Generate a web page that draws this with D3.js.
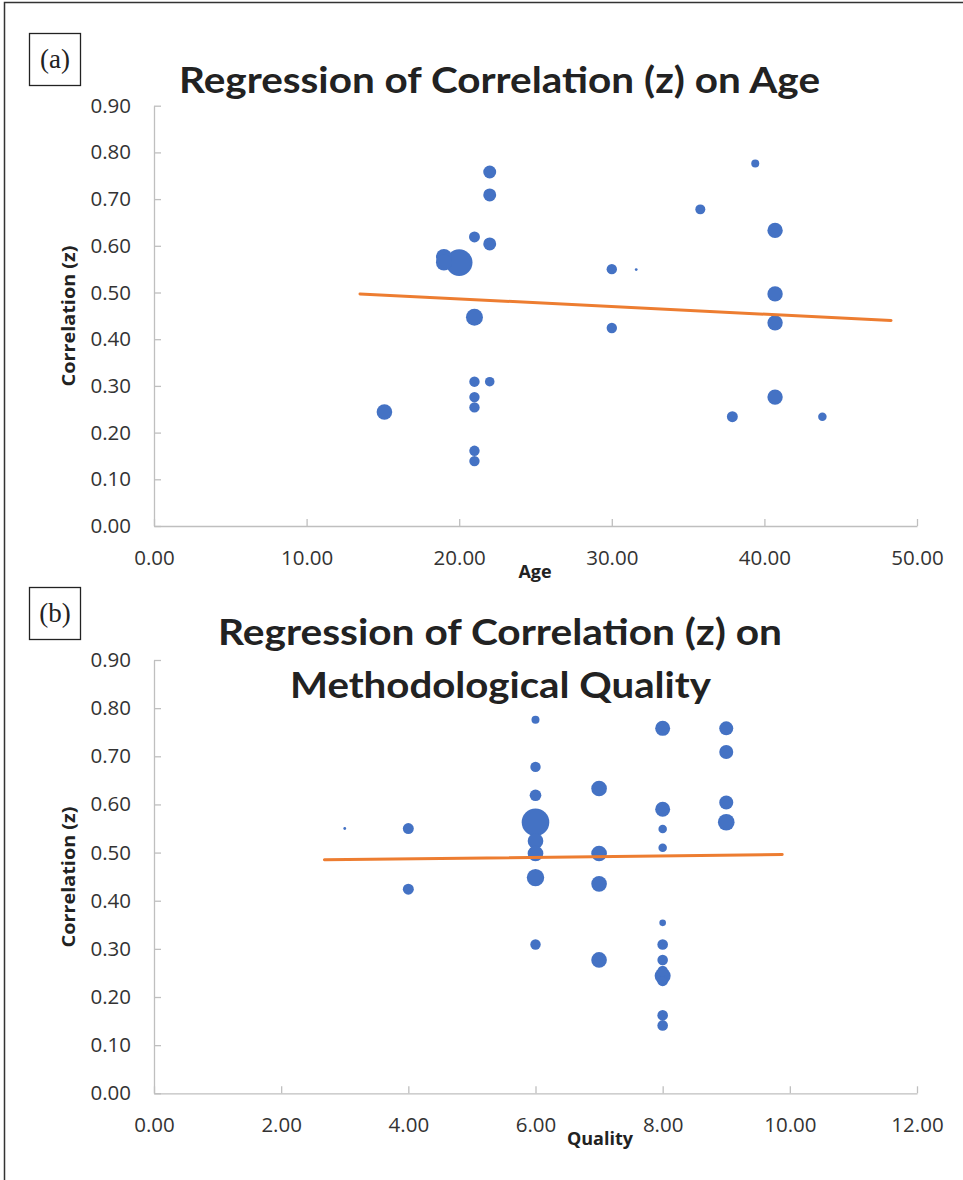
<!DOCTYPE html>
<html>
<head>
<meta charset="utf-8">
<script src="https://cdn.jsdelivr.net/npm/d3@7"></script>
<style>
  body { margin: 0; background: white; }
  #graph svg { display: block; }
</style>
</head>
<body>
<div id="graph"></div>
<script>
// Panel (a): correlation (z) against mean age, bubble size ~ study weight
var ageX = [22, 22, 21, 22, 19, 19, 20, 21, 30, 31.6, 30, 21, 22, 21, 21, 15.1, 21, 21,
            39.4, 35.8, 40.7, 40.7, 40.7, 40.7, 37.9, 43.8];
var ageY = [0.758, 0.709, 0.619, 0.604, 0.576, 0.564, 0.564, 0.447, 0.550, 0.549, 0.424,
            0.309, 0.309, 0.276, 0.254, 0.244, 0.161, 0.139,
            0.776, 0.678, 0.633, 0.497, 0.435, 0.276, 0.234, 0.234];
var ageSize = [42, 42, 30, 42, 64, 64, 177, 72, 27, 2, 27, 27, 23, 27, 27, 61, 27, 27,
               16, 25, 59, 59, 59, 59, 30, 18];
var ageFitX = [13.5, 48.3];
var ageFitY = [0.497, 0.440];
var ageTicks = [0, 10, 20, 30, 40, 50];

// Panel (b): correlation (z) against methodological quality score
var qualX = [6, 6, 6, 6, 6, 6, 6, 6,
             7, 7, 7, 7,
             8, 8, 8, 8, 8, 8, 8, 8, 8, 8, 8, 8, 8,
             9, 9, 9, 9,
             3, 4, 4];
var qualY = [0.776, 0.678, 0.619, 0.563, 0.524, 0.498, 0.448, 0.309,
             0.633, 0.498, 0.435, 0.277,
             0.758, 0.590, 0.549, 0.510, 0.354, 0.309, 0.277, 0.254, 0.244, 0.234, 0.234, 0.162, 0.141,
             0.758, 0.709, 0.604, 0.563,
             0.550, 0.550, 0.424];
var qualSize = [16, 27, 34, 190, 61, 61, 76, 27,
                61, 61, 61, 61,
                56, 56, 18, 18, 11, 28, 28, 27, 64, 30, 18, 28, 28,
                49, 49, 49, 69,
                2, 30, 30];
var qualFitX = [2.68, 9.88];
var qualFitY = [0.485, 0.496];
var qualTicks = [0, 2, 4, 6, 8, 10, 12];

var corrTicks = [0, 0.1, 0.2, 0.3, 0.4, 0.5, 0.6, 0.7, 0.8, 0.9];

var W = 963, H = 1180;
var bubbleColor = "#4472C4";
var fitColor = "#ED7D31";
var axisColor = "#BFBFBF";
var textColor = "#333333";

var svg = d3.select("#graph")
    .append("svg")
    .attr("width", W)
    .attr("height", H)
    .style("background-color", "white");

// outer frame, right and bottom edges run off the page
svg.append("rect")
    .attr("x", 4.5).attr("y", 2.5)
    .attr("width", W + 20).attr("height", H + 20)
    .attr("fill", "none")
    .attr("stroke", "#333")
    .attr("stroke-width", 1.5);

/*
  makeBubblePanel

  draws one bubble chart with its own axes, regression line, titles
  and the little boxed (a)/(b) tag in the top left corner.
*/
function makeBubblePanel(opts) {
    var g = svg.append("g");

    var x = d3.scaleLinear().domain(opts.xDomain).range([154, 917]);
    var y = d3.scaleLinear().domain([0, 0.9]).range([opts.yBottom, opts.yTop]);
    var r = d3.scaleSqrt().domain([0, d3.max(opts.sizes)]).range([0, opts.rMax]);

    // tag box
    g.append("rect")
        .attr("x", 29.5).attr("y", opts.tagY + 0.5)
        .attr("width", 51).attr("height", 52)
        .attr("fill", "white")
        .attr("stroke", "#222")
        .attr("stroke-width", 1.3);
    g.append("text")
        .attr("x", 55).attr("y", opts.tagY + 35)
        .attr("text-anchor", "middle")
        .style("font-family", "'Liberation Serif', serif")
        .style("font-size", "27px")
        .style("fill", "#222")
        .text(opts.tag);

    // titles
    opts.title.forEach(function(t) {
        g.append("text")
            .attr("x", t.cx).attr("y", t.y)
            .attr("text-anchor", "middle")
            .attr("textLength", t.len)
            .attr("lengthAdjust", "spacingAndGlyphs")
            .style("font-family", "Lato, 'Open Sans', sans-serif")
            .style("font-weight", "bold")
            .style("font-size", "36px")
            .style("fill", "#222")
            .text(t.text);
    });

    // axes
    var yAxis = d3.axisLeft(y)
        .tickValues(corrTicks)
        .tickFormat(d3.format(".2f"))
        .tickSizeInner(-7)
        .tickSizeOuter(0)
        .tickPadding(23);
    var xAxis = d3.axisBottom(x)
        .tickValues(opts.xTicks)
        .tickFormat(d3.format(".2f"))
        .tickSizeInner(-7)
        .tickSizeOuter(0)
        .tickPadding(24);

    var ya = g.append("g")
        .attr("transform", "translate(154,0)")
        .call(yAxis);
    var xa = g.append("g")
        .attr("transform", "translate(0," + opts.yBottom + ")")
        .call(xAxis);

    [ya, xa].forEach(function(a) {
        a.select(".domain").attr("stroke", axisColor).attr("stroke-width", 1.3);
        a.selectAll(".tick line").attr("stroke", axisColor).attr("stroke-width", 1.3);
        a.selectAll(".tick text")
            .style("font-family", "'Open Sans', sans-serif")
            .style("font-size", "20.5px")
            .style("fill", textColor);
    });

    // axis titles
    g.append("text")
        .attr("transform", "translate(75," + opts.yLabelY + ") rotate(-90)")
        .attr("text-anchor", "middle")
        .attr("textLength", 141)
        .attr("lengthAdjust", "spacingAndGlyphs")
        .style("font-family", "'Open Sans', sans-serif")
        .style("font-weight", "bold")
        .style("font-size", "18px")
        .style("fill", "#222")
        .text("Correlation (z)");
    g.append("text")
        .attr("x", opts.xLabelX).attr("y", opts.yBottom + opts.xLabelDy)
        .attr("text-anchor", "middle")
        .style("font-family", "'Open Sans', sans-serif")
        .style("font-weight", "bold")
        .style("font-size", "18px")
        .style("fill", "#222")
        .text(opts.xLabel);

    // bubbles, biggest first so small ones stay visible
    var pts = opts.xs.map(function(v, i) {
        return { x: v, y: opts.ys[i], s: opts.sizes[i] };
    });
    pts.sort(function(a, b) { return b.s - a.s; });

    g.append("g").selectAll("circle")
        .data(pts)
        .enter()
        .append("circle")
        .attr("cx", function(d) { return x(d.x); })
        .attr("cy", function(d) { return y(d.y); })
        .attr("r", function(d) { return r(d.s); })
        .attr("fill", bubbleColor);

    // regression line on top
    var fit = opts.fitX.map(function(v, i) { return [v, opts.fitY[i]]; });
    g.append("path")
        .datum(fit)
        .attr("d", d3.line()
              .x(function(d) { return x(d[0]); })
              .y(function(d) { return y(d[1]); }))
        .attr("fill", "none")
        .attr("stroke", fitColor)
        .attr("stroke-width", 3)
        .attr("stroke-linecap", "round");
}

makeBubblePanel({
    tag: "(a)",
    tagY: 33,
    title: [{ text: "Regression of Correlation (z) on Age", cx: 499.5, y: 93, len: 641 }],
    xDomain: [0, 50],
    xTicks: ageTicks,
    yTop: 105.7,
    yBottom: 526,
    rMax: 13.3,
    xs: ageX, ys: ageY, sizes: ageSize,
    fitX: ageFitX, fitY: ageFitY,
    xLabel: "Age", xLabelX: 535, xLabelDy: 52,
    yLabelY: 316
});

makeBubblePanel({
    tag: "(b)",
    tagY: 587,
    title: [
        { text: "Regression of Correlation (z) on", cx: 500, y: 645, len: 564 },
        { text: "Methodological Quality", cx: 500.5, y: 698, len: 421 }
    ],
    xDomain: [0, 12],
    xTicks: qualTicks,
    yTop: 660,
    yBottom: 1093.3,
    rMax: 13.8,
    xs: qualX, ys: qualY, sizes: qualSize,
    fitX: qualFitX, fitY: qualFitY,
    xLabel: "Quality", xLabelX: 600, xLabelDy: 52,
    yLabelY: 877
});
</script>
</body>
</html>
